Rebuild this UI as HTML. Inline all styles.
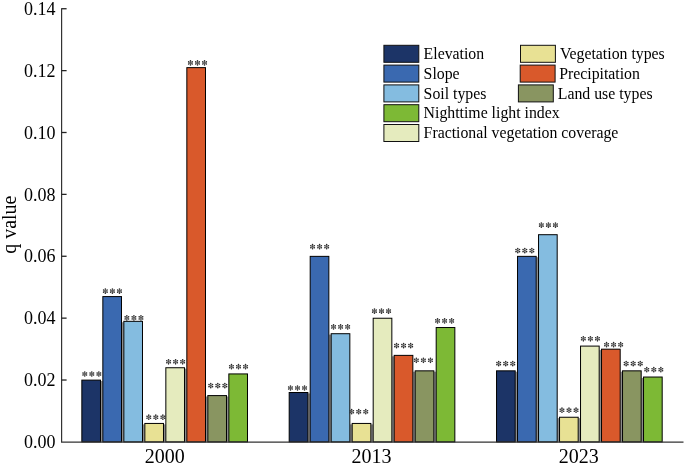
<!DOCTYPE html><html><head><meta charset="utf-8"><style>html,body{margin:0;padding:0;background:#fff;width:685px;height:465px;overflow:hidden}svg{display:block;will-change:transform}text{font-family:"Liberation Serif",serif}</style></head><body>
<svg width="685" height="465" viewBox="0 0 685 465">
<rect x="0" y="0" width="685" height="465" fill="#fff"/>
<defs><g id="a" fill="#2a2a2a"><path d="M0,0L0.000,-2.050" stroke="#2a2a2a" stroke-width="0.6"/><circle cx="0.000" cy="-2.050" r="0.78"/><path d="M0,0L1.775,-1.025" stroke="#2a2a2a" stroke-width="0.6"/><circle cx="1.775" cy="-1.025" r="0.78"/><path d="M0,0L1.775,1.025" stroke="#2a2a2a" stroke-width="0.6"/><circle cx="1.775" cy="1.025" r="0.78"/><path d="M0,0L0.000,2.050" stroke="#2a2a2a" stroke-width="0.6"/><circle cx="0.000" cy="2.050" r="0.78"/><path d="M0,0L-1.775,-1.025" stroke="#2a2a2a" stroke-width="0.6"/><circle cx="-1.775" cy="-1.025" r="0.78"/><path d="M0,0L-1.775,1.025" stroke="#2a2a2a" stroke-width="0.6"/><circle cx="-1.775" cy="1.025" r="0.78"/></g></defs>
<use href="#a" x="84.75" y="374.00"/>
<use href="#a" x="91.80" y="374.00"/>
<use href="#a" x="98.85" y="374.00"/>
<use href="#a" x="105.35" y="291.10"/>
<use href="#a" x="112.40" y="291.10"/>
<use href="#a" x="119.45" y="291.10"/>
<use href="#a" x="126.85" y="317.90"/>
<use href="#a" x="133.90" y="317.90"/>
<use href="#a" x="140.95" y="317.90"/>
<use href="#a" x="148.75" y="417.20"/>
<use href="#a" x="155.80" y="417.20"/>
<use href="#a" x="162.85" y="417.20"/>
<use href="#a" x="168.55" y="361.80"/>
<use href="#a" x="175.60" y="361.80"/>
<use href="#a" x="182.65" y="361.80"/>
<use href="#a" x="190.45" y="62.90"/>
<use href="#a" x="197.50" y="62.90"/>
<use href="#a" x="204.55" y="62.90"/>
<use href="#a" x="210.75" y="385.60"/>
<use href="#a" x="217.80" y="385.60"/>
<use href="#a" x="224.85" y="385.60"/>
<use href="#a" x="231.45" y="366.70"/>
<use href="#a" x="238.50" y="366.70"/>
<use href="#a" x="245.55" y="366.70"/>
<use href="#a" x="290.45" y="388.00"/>
<use href="#a" x="297.50" y="388.00"/>
<use href="#a" x="304.55" y="388.00"/>
<use href="#a" x="312.55" y="246.70"/>
<use href="#a" x="319.60" y="246.70"/>
<use href="#a" x="326.65" y="246.70"/>
<use href="#a" x="333.55" y="326.90"/>
<use href="#a" x="340.60" y="326.90"/>
<use href="#a" x="347.65" y="326.90"/>
<use href="#a" x="351.65" y="411.70"/>
<use href="#a" x="358.70" y="411.70"/>
<use href="#a" x="365.75" y="411.70"/>
<use href="#a" x="374.45" y="311.10"/>
<use href="#a" x="381.50" y="311.10"/>
<use href="#a" x="388.55" y="311.10"/>
<use href="#a" x="396.55" y="345.60"/>
<use href="#a" x="403.60" y="345.60"/>
<use href="#a" x="410.65" y="345.60"/>
<use href="#a" x="416.35" y="360.30"/>
<use href="#a" x="423.40" y="360.30"/>
<use href="#a" x="430.45" y="360.30"/>
<use href="#a" x="437.55" y="320.90"/>
<use href="#a" x="444.60" y="320.90"/>
<use href="#a" x="451.65" y="320.90"/>
<use href="#a" x="498.65" y="363.60"/>
<use href="#a" x="505.70" y="363.60"/>
<use href="#a" x="512.75" y="363.60"/>
<use href="#a" x="517.75" y="250.60"/>
<use href="#a" x="524.80" y="250.60"/>
<use href="#a" x="531.85" y="250.60"/>
<use href="#a" x="541.35" y="225.10"/>
<use href="#a" x="548.40" y="225.10"/>
<use href="#a" x="555.45" y="225.10"/>
<use href="#a" x="561.95" y="410.20"/>
<use href="#a" x="569.00" y="410.20"/>
<use href="#a" x="576.05" y="410.20"/>
<use href="#a" x="583.35" y="338.80"/>
<use href="#a" x="590.40" y="338.80"/>
<use href="#a" x="597.45" y="338.80"/>
<use href="#a" x="606.55" y="344.70"/>
<use href="#a" x="613.60" y="344.70"/>
<use href="#a" x="620.65" y="344.70"/>
<use href="#a" x="626.15" y="363.60"/>
<use href="#a" x="633.20" y="363.60"/>
<use href="#a" x="640.25" y="363.60"/>
<use href="#a" x="646.75" y="369.70"/>
<use href="#a" x="653.80" y="369.70"/>
<use href="#a" x="660.85" y="369.70"/>
<g fill="#8c8c8c">
<rect x="100.69" y="381.02" width="1.95" height="60.88"/>
<rect x="121.69" y="322.23" width="1.95" height="119.67"/>
<rect x="142.69" y="424.34" width="1.95" height="17.56"/>
<rect x="163.69" y="424.34" width="1.95" height="17.56"/>
<rect x="184.69" y="368.64" width="1.95" height="73.26"/>
<rect x="205.69" y="396.49" width="1.95" height="45.41"/>
<rect x="226.69" y="396.49" width="1.95" height="45.41"/>
<rect x="308.04" y="393.40" width="1.95" height="48.50"/>
<rect x="329.04" y="334.61" width="1.95" height="107.29"/>
<rect x="350.04" y="424.34" width="1.95" height="17.56"/>
<rect x="371.04" y="424.34" width="1.95" height="17.56"/>
<rect x="392.04" y="356.27" width="1.95" height="85.63"/>
<rect x="413.04" y="371.74" width="1.95" height="70.16"/>
<rect x="434.04" y="371.74" width="1.95" height="70.16"/>
<rect x="515.38" y="371.74" width="1.95" height="70.16"/>
<rect x="536.38" y="257.26" width="1.95" height="184.64"/>
<rect x="557.38" y="418.15" width="1.95" height="23.75"/>
<rect x="578.38" y="418.15" width="1.95" height="23.75"/>
<rect x="599.38" y="350.08" width="1.95" height="91.82"/>
<rect x="620.38" y="371.74" width="1.95" height="70.16"/>
<rect x="641.38" y="377.93" width="1.95" height="63.97"/>
</g>
<g stroke="#000" stroke-width="1">
<rect x="81.84" y="380.12" width="18.65" height="61.78" fill="#1c3467"/>
<rect x="102.84" y="296.58" width="18.65" height="145.32" fill="#3a69b0"/>
<rect x="123.84" y="321.33" width="18.65" height="120.57" fill="#84bce0"/>
<rect x="144.84" y="423.44" width="18.65" height="18.46" fill="#e8e194"/>
<rect x="165.84" y="367.74" width="18.65" height="74.16" fill="#e5ebbe"/>
<rect x="186.84" y="67.63" width="18.65" height="374.27" fill="#d9592b"/>
<rect x="207.84" y="395.59" width="18.65" height="46.31" fill="#899561"/>
<rect x="228.84" y="373.93" width="18.65" height="67.97" fill="#7db935"/>
<rect x="289.19" y="392.50" width="18.65" height="49.40" fill="#1c3467"/>
<rect x="310.19" y="256.36" width="18.65" height="185.54" fill="#3a69b0"/>
<rect x="331.19" y="333.71" width="18.65" height="108.19" fill="#84bce0"/>
<rect x="352.19" y="423.44" width="18.65" height="18.46" fill="#e8e194"/>
<rect x="373.19" y="318.24" width="18.65" height="123.66" fill="#e5ebbe"/>
<rect x="394.19" y="355.37" width="18.65" height="86.53" fill="#d9592b"/>
<rect x="415.19" y="370.84" width="18.65" height="71.06" fill="#899561"/>
<rect x="436.19" y="327.52" width="18.65" height="114.38" fill="#7db935"/>
<rect x="496.53" y="370.84" width="18.65" height="71.06" fill="#1c3467"/>
<rect x="517.53" y="256.36" width="18.65" height="185.54" fill="#3a69b0"/>
<rect x="538.53" y="234.70" width="18.65" height="207.20" fill="#84bce0"/>
<rect x="559.53" y="417.25" width="18.65" height="24.65" fill="#e8e194"/>
<rect x="580.53" y="346.09" width="18.65" height="95.81" fill="#e5ebbe"/>
<rect x="601.53" y="349.18" width="18.65" height="92.72" fill="#d9592b"/>
<rect x="622.53" y="370.84" width="18.65" height="71.06" fill="#899561"/>
<rect x="643.53" y="377.03" width="18.65" height="64.87" fill="#7db935"/>
</g>
<path d="M61.6,8.2 V442.09999999999997 H683.5" fill="none" stroke="#333" stroke-width="1.2"/>
<text x="55.5" y="448.10" font-size="18" fill="#000" text-anchor="end">0.00</text>
<path d="M61.6,380.02 H66.6" stroke="#222" stroke-width="1.3"/>
<text x="55.5" y="386.22" font-size="18" fill="#000" text-anchor="end">0.02</text>
<path d="M61.6,318.14 H66.6" stroke="#222" stroke-width="1.3"/>
<text x="55.5" y="324.34" font-size="18" fill="#000" text-anchor="end">0.04</text>
<path d="M61.6,256.26 H66.6" stroke="#222" stroke-width="1.3"/>
<text x="55.5" y="262.46" font-size="18" fill="#000" text-anchor="end">0.06</text>
<path d="M61.6,194.38 H66.6" stroke="#222" stroke-width="1.3"/>
<text x="55.5" y="200.58" font-size="18" fill="#000" text-anchor="end">0.08</text>
<path d="M61.6,132.50 H66.6" stroke="#222" stroke-width="1.3"/>
<text x="55.5" y="138.70" font-size="18" fill="#000" text-anchor="end">0.10</text>
<path d="M61.6,70.62 H66.6" stroke="#222" stroke-width="1.3"/>
<text x="55.5" y="76.82" font-size="18" fill="#000" text-anchor="end">0.12</text>
<path d="M61.6,8.74 H66.6" stroke="#222" stroke-width="1.3"/>
<text x="55.5" y="14.94" font-size="18" fill="#000" text-anchor="end">0.14</text>
<text x="164.80" y="463.3" font-size="20" fill="#000" text-anchor="middle">2000</text>
<text x="371.40" y="463.3" font-size="20" fill="#000" text-anchor="middle">2013</text>
<text x="578.80" y="463.3" font-size="20" fill="#000" text-anchor="middle">2023</text>
<text transform="translate(16,224.7) rotate(-90)" font-size="20" fill="#000" text-anchor="middle">q value</text>
<g stroke="#111" stroke-width="1">
<rect x="383.9" y="45.30" width="34.9" height="17" fill="#1c3467"/>
<rect x="383.9" y="65.10" width="34.9" height="17" fill="#3a69b0"/>
<rect x="383.9" y="84.90" width="34.9" height="17" fill="#84bce0"/>
<rect x="383.9" y="104.70" width="34.9" height="17" fill="#7db935"/>
<rect x="383.9" y="124.50" width="34.9" height="17" fill="#e5ebbe"/>
<rect x="520.50" y="45.30" width="34.9" height="17" fill="#e8e194"/>
<rect x="520.20" y="65.10" width="34.9" height="17" fill="#d9592b"/>
<rect x="518.40" y="84.90" width="34.9" height="17" fill="#899561"/>
</g>
<g font-size="15.8" fill="#000">
<text x="423.6" y="59.10">Elevation</text>
<text x="423.6" y="78.85">Slope</text>
<text x="423.6" y="98.60">Soil types</text>
<text x="423.6" y="118.35">Nighttime light index</text>
<text x="423.6" y="138.10">Fractional vegetation coverage</text>
<text x="559.90" y="59.10">Vegetation types</text>
<text x="559.20" y="78.85">Precipitation</text>
<text x="557.80" y="98.60">Land use types</text>
</g>
</svg></body></html>
